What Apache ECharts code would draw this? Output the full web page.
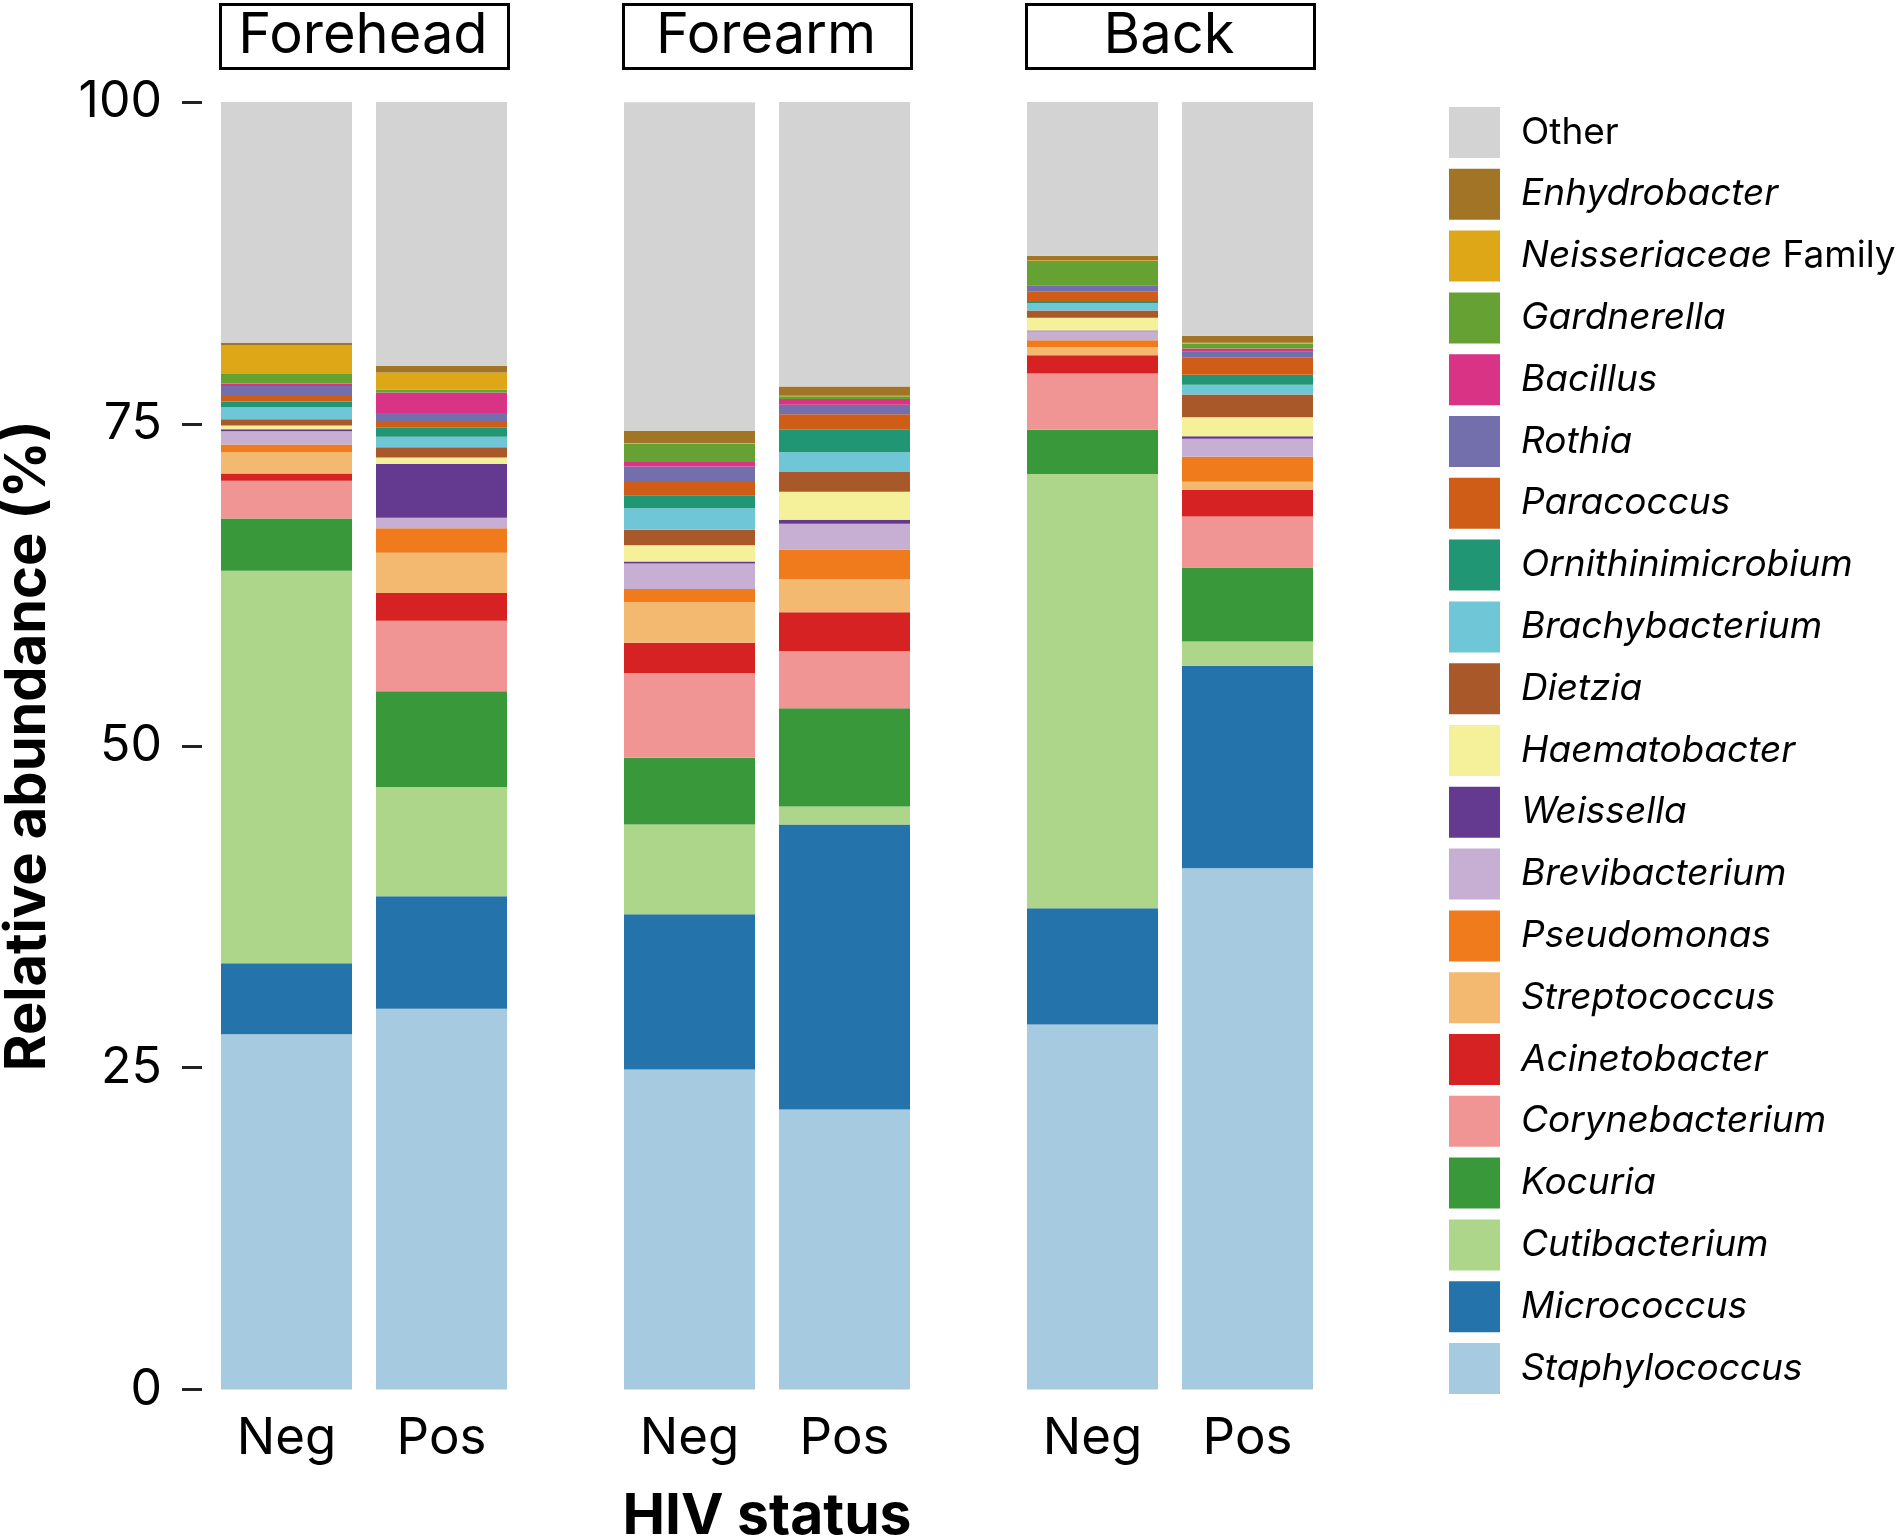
<!DOCTYPE html>
<html>
<head>
<meta charset="utf-8">
<script src="https://cdn.jsdelivr.net/npm/echarts@6/dist/echarts.min.js"></script>
<style>
html,body{margin:0;padding:0;background:#fff;}
#chart{width:1897px;height:1538px;}
</style>
</head>
<body>
<div id="chart"></div>
<script>
// Facets and categories
const sites = ['Forehead', 'Forearm', 'Back'];
const hivStatus = ['Neg', 'Pos'];
const yTicks = [0, 25, 50, 75, 100];

// Taxa from bottom of stack to top
const taxa = ['Staphylococcus','Micrococcus','Cutibacterium','Kocuria','Corynebacterium','Acinetobacter',
  'Streptococcus','Pseudomonas','Brevibacterium','Weissella','Haematobacter','Dietzia','Brachybacterium',
  'Ornithinimicrobium','Paracoccus','Rothia','Bacillus','Gardnerella','Neisseriaceae Family','Enhydrobacter','Other'];

// Values (%) ordered: Forehead Neg, Forehead Pos, Forearm Neg, Forearm Pos, Back Neg, Back Pos
const Staphylococcus     = [27.60, 29.57, 24.86, 21.75, 28.34, 40.49];
const Micrococcus        = [5.50, 8.75, 12.05, 22.13, 9.04, 15.72];
const Cutibacterium      = [30.50, 8.48, 6.97, 1.41, 33.73, 1.89];
const Kocuria            = [4.05, 7.44, 5.18, 7.63, 3.43, 5.74];
const Corynebacterium    = [2.93, 5.46, 6.59, 4.43, 4.38, 3.96];
const Acinetobacter      = [0.57, 2.16, 2.35, 3.01, 1.41, 2.07];
const Streptococcus      = [1.64, 3.13, 3.17, 2.59, 0.62, 0.63];
const Pseudomonas        = [0.60, 1.90, 1.00, 2.29, 0.55, 1.95];
const Brevibacterium     = [1.04, 0.81, 1.98, 2.01, 0.70, 1.40];
const Weissella          = [0.16, 4.19, 0.16, 0.31, 0.05, 0.19];
const Haematobacter      = [0.29, 0.50, 1.27, 2.17, 0.99, 1.48];
const Dietzia            = [0.47, 0.80, 1.20, 1.53, 0.57, 1.77];
const Brachybacterium    = [0.94, 0.81, 1.67, 1.54, 0.57, 0.74];
const Ornithinimicrobium = [0.44, 0.70, 1.01, 1.74, 0.16, 0.78];
const Paracoccus         = [0.52, 0.44, 1.02, 1.20, 0.73, 1.33];
const Rothia             = [0.70, 0.70, 1.20, 0.75, 0.47, 0.46];
const Bacillus           = [0.18, 1.59, 0.36, 0.45, 0.05, 0.26];
const Gardnerella        = [0.75, 0.23, 1.44, 0.20, 1.87, 0.39];
const Neisseriaceae      = [2.24, 1.33, 0.03, 0.05, 0.05, 0.05];
const Enhydrobacter      = [0.16, 0.52, 0.96, 0.71, 0.34, 0.55];
const Other              = [18.72, 20.49, 25.51, 22.10, 11.95, 18.15];

const taxaValues = [Staphylococcus, Micrococcus, Cutibacterium, Kocuria, Corynebacterium, Acinetobacter,
  Streptococcus, Pseudomonas, Brevibacterium, Weissella, Haematobacter, Dietzia, Brachybacterium,
  Ornithinimicrobium, Paracoccus, Rothia, Bacillus, Gardnerella, Neisseriaceae, Enhydrobacter, Other];

const taxaColors = ['#a6cae0','#2474ab','#aed68a','#39993a','#f09594','#d62222','#f4b970','#ef7b1c',
  '#c6afd3','#643a90','#f5f09a','#a95829','#6fc6d6','#219674','#d05d17','#736eac','#d93385',
  '#66a233','#dea718','#a17525','#d3d3d3'];

const FONT = 'Inter';
const chart = echarts.init(document.getElementById('chart'), null, {renderer: 'canvas'});

const gridLefts = [209, 612, 1015];
const gridWidth = 310;
const stripX = [219, 622, 1025];

const grids = gridLefts.map(l => ({left: l, width: gridWidth, top: 102, bottom: 148.5,
  containLabel: false, outerBoundsMode: 'none'}));

const xAxes = sites.map((s, i) => ({
  type: 'category', gridIndex: i, data: hivStatus,
  axisLine: {show: false}, axisTick: {show: false},
  axisLabel: {fontFamily: FONT, fontSize: 51, color: '#000', margin: 24},
  name: i === 1 ? 'HIV status' : '',
  nameLocation: 'middle', nameGap: 99,
  nameTextStyle: {fontFamily: FONT, fontSize: 57, fontWeight: 'bold', color: '#000'}
}));

const yAxes = sites.map((s, i) => ({
  type: 'value', gridIndex: i, min: 0, max: 100, interval: 25,
  show: i === 0,
  offset: 7,
  axisLine: {show: false},
  axisTick: {show: true, length: 20, lineStyle: {color: '#222', width: 3}},
  axisLabel: {fontFamily: FONT, fontSize: 50, color: '#000', margin: 40},
  splitLine: {show: false},
  name: i === 0 ? 'Relative abundance (%)' : '',
  nameLocation: 'middle', nameGap: 146,
  nameTextStyle: {fontFamily: FONT, fontSize: 56, fontWeight: 'bold', color: '#000'}
}));

const series = [];
sites.forEach((s, si) => {
  taxa.forEach((t, ti) => {
    series.push({
      type: 'bar', name: t, xAxisIndex: si, yAxisIndex: si, stack: 'site' + si,
      barWidth: 131,
      itemStyle: {color: taxaColors[ti]},
      data: [taxaValues[ti][2 * si], taxaValues[ti][2 * si + 1]],
      emphasis: {disabled: true}
    });
  });
});

const graphics = [];
sites.forEach((s, i) => {
  graphics.push({
    type: 'rect', left: stripX[i], top: 3,
    shape: {width: 288, height: 64},
    style: {fill: '#fff', stroke: '#000', lineWidth: 3}
  });
  graphics.push({
    type: 'text', x: stripX[i] + 144, y: 36,
    style: {text: s, fontFamily: FONT, fontSize: 56, fill: '#000', textAlign: 'center', textVerticalAlign: 'middle'}
  });
});

chart.setOption({
  animation: false,
  backgroundColor: '#fff',
  grid: grids,
  xAxis: xAxes,
  yAxis: yAxes,
  legend: {
    orient: 'vertical', left: 1444, top: 102,
    icon: 'rect', itemWidth: 51, itemHeight: 51, itemGap: 10.8,
    data: taxa.slice().reverse(),
    selectedMode: false,
    formatter: function (name) {
      if (name === 'Other') return name;
      if (name === 'Neisseriaceae Family') return '{i|Neisseriaceae} Family';
      return '{i|' + name + '}';
    },
    textStyle: {
      fontFamily: FONT, fontSize: 37, color: '#000', padding: [0, 0, 0, 16],
      rich: {i: {fontFamily: FONT, fontSize: 37, fontStyle: 'italic', color: '#000'}}
    }
  },
  graphic: graphics,
  series: series
});
</script>
</body>
</html>
